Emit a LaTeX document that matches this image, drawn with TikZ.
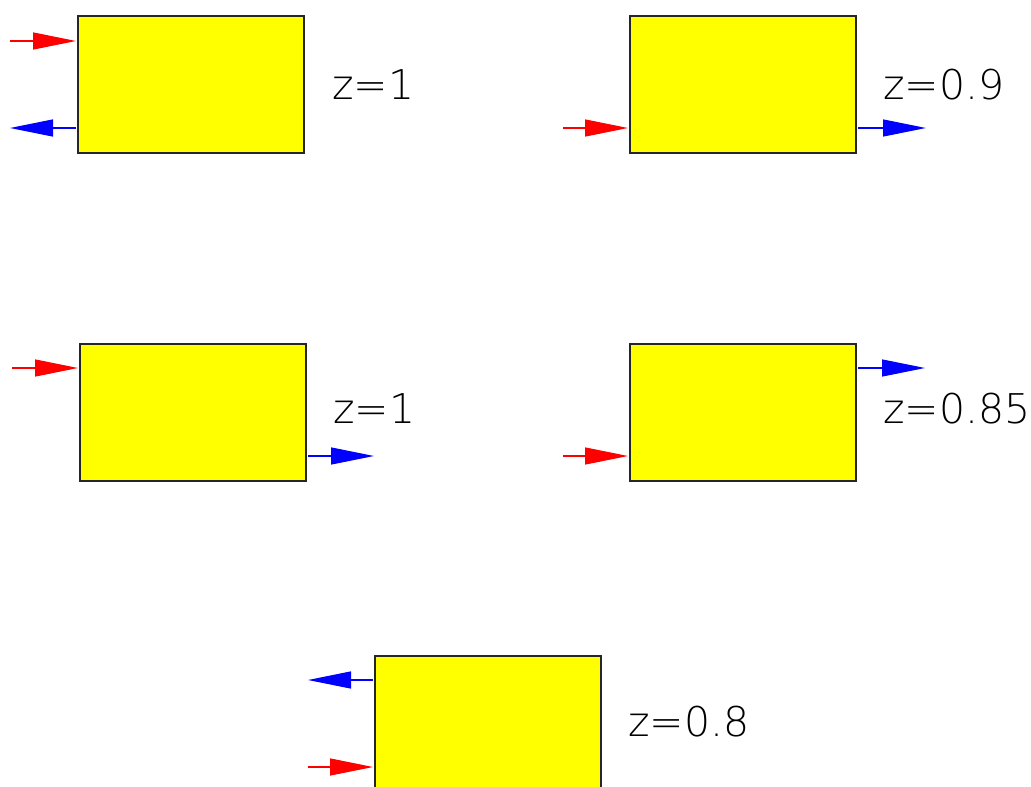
\documentclass[tikz,border=0pt]{standalone}
\usepackage{fontspec}
\newfontfamily\lblfont{DejaVu Sans ExtraLight}
\usetikzlibrary{arrows.meta}
\definecolor{yel}{RGB}{255,255,0}
\definecolor{rd}{RGB}{255,0,0}
\definecolor{bl}{RGB}{0,0,255}
\begin{document}
\begin{tikzpicture}[x=1pt,y=-1pt,
  box/.style={draw=black!85,line width=1.5pt,fill=yel,minimum width=226pt,minimum height=137pt,inner sep=0pt,outer sep=0pt},
  rarr/.style={draw=rd,fill=rd,line width=1.3pt,-{Triangle[length=43pt,width=17pt]},shorten >=2pt},
  barr/.style={draw=bl,fill=bl,line width=1.3pt,-{Triangle[length=43pt,width=17pt]},shorten <=2pt},
  lbl/.style={anchor=base west,inner sep=0pt,font=\lblfont\fontsize{41pt}{41pt}\selectfont,text=black}]
\useasboundingbox (0,0) rectangle (1031,787);
\clip (0,0) rectangle (1031,787);
\node[box] (b1) at (191,84.5) {};
\node[box] (b2) at (743,84.5) {};
\node[box] (b3) at (193,412.5) {};
\node[box] (b4) at (743,412.5) {};
\node[box] (b5) at (488,724.5) {};
% box 1
\coordinate (r1) at (10,41);
\coordinate (u1) at (10,128);
\draw[rarr] (r1) -- (r1 -| b1.west);
\draw[barr] (u1 -| b1.west) -- (u1);
\node[lbl] (l1) at (332,99) {z=1};
% box 2
\coordinate (r2) at (563,128);
\coordinate (u2) at (926,128);
\draw[rarr] (r2) -- (r2 -| b2.west);
\draw[barr] (u2 -| b2.east) -- (u2);
\node[lbl] (l2) at (883,99) {z=0.9};
% box 3
\coordinate (r3) at (12,368);
\coordinate (u3) at (374,456);
\draw[rarr] (r3) -- (r3 -| b3.west);
\draw[barr] (u3 -| b3.east) -- (u3);
\node[lbl] (l3) at (333,423) {z=1};
% box 4
\coordinate (u4) at (925,368);
\coordinate (r4) at (563,456);
\draw[barr] (u4 -| b4.east) -- (u4);
\draw[rarr] (r4) -- (r4 -| b4.west);
\node[lbl] (l4) at (883,423) {z=0.85};
% box 5
\coordinate (u5) at (308,680);
\coordinate (r5) at (308,767);
\draw[barr] (u5 -| b5.west) -- (u5);
\draw[rarr] (r5) -- (r5 -| b5.west);
\node[lbl] (l5) at (628,736) {z=0.8};
\end{tikzpicture}
\end{document}
